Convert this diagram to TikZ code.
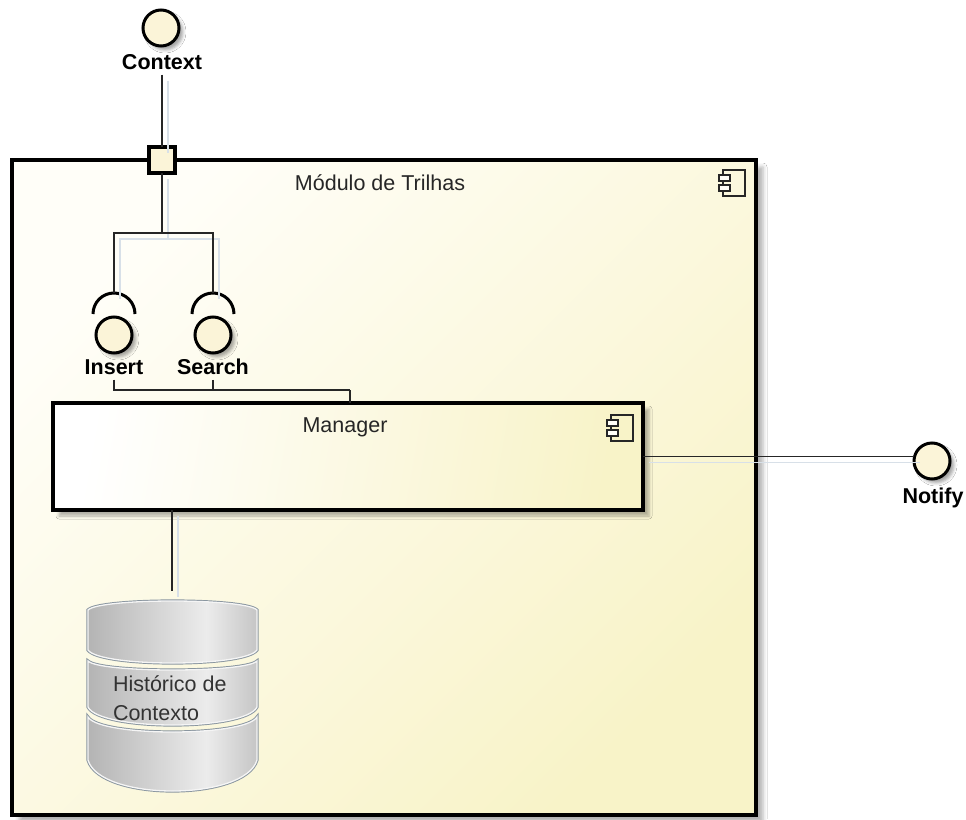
\documentclass[tikz,border=0pt]{standalone}
\usepackage{fontspec}
\setmainfont{Liberation Sans}
\usetikzlibrary{calc,shadows.blur}

\definecolor{paperhi}{HTML}{FFFEF8}
\definecolor{paperlo}{HTML}{F8F3C8}
\definecolor{cream}{HTML}{FBF4D8}
\definecolor{wireshade}{HTML}{D8E0E8}
\definecolor{dbedge}{HTML}{8A96A0}
\definecolor{dbdark}{HTML}{8C8C8C}
\definecolor{dblight}{HTML}{ECECEC}

% metallic horizontal gradient of the database discs
\pgfdeclarehorizontalshading{dbshade}{100bp}{%
  color(0bp)=(dbdark); color(12bp)=(dbdark!80!dblight); color(60bp)=(dblight);
  color(88bp)=(dbdark!75!dblight); color(100bp)=(dbdark)}

% small UML component glyph, (#1,#2) = top-left corner of its body
\newcommand\compicon[2]{%
  \draw[line width=1.4pt, draw=black!85] (#1,-#2) rectangle ++(22,-26);
  \draw[line width=1.4pt, draw=black!85, fill=paperhi] (#1-4,-#2-5) rectangle ++(11,-6);
  \draw[line width=1.4pt, draw=black!85, fill=paperhi] (#1-4,-#2-15) rectangle ++(11,-6);
}

% one disc of the database stack: top corner y, top middle y, bottom corner y, bottom middle y
\newcommand\dbseg[4]{%
  \path[dbfill]
    (88,-#1) .. controls (100,{-(#1+(#2-#1)*4/3)}) and (245,{-(#1+(#2-#1)*4/3)}) .. (257,-#1)
    -- (257,-#3) .. controls (245,{-(#3+(#4-#3)*4/3)}) and (100,{-(#3+(#4-#3)*4/3)}) .. (88,-#3)
    -- cycle;
}

\begin{document}
\begin{tikzpicture}[x=1pt, y=1pt,
  every node/.style={inner sep=0pt, outer sep=0pt},
  compbox/.style={rectangle, draw=black, line width=4pt},
  iface/.style={circle, draw=black, line width=3pt, fill=cream, minimum size=36pt,
    blur shadow={shadow xshift=4pt, shadow yshift=-4pt, shadow blur radius=3pt, shadow opacity=35}},
  socket/.style={draw=black, line width=3pt},
  lbl/.style={font=\fontsize{21.5}{24}\selectfont\bfseries, text=black},
  txt/.style={font=\fontsize{21.5}{29}\selectfont, text=black!85},
  wire/.style={draw=black!85, line width=1.6pt},
  dbfill/.style={shading=dbshade, preaction={draw=dbedge, line width=3.2pt},
    draw=white!92!gray, line width=1.3pt},
]
\useasboundingbox (0,0) rectangle (966,-819);
\fill[white] (0,0) rectangle (966,-819);

% ---- enclosing component
\node[compbox, minimum width=744pt, minimum height=655pt,
  top color=paperhi, bottom color=paperlo, shading angle=45,
  blur shadow={shadow xshift=7pt, shadow yshift=-7pt, shadow blur radius=4pt, shadow opacity=30}]
  (trilhas) at (384,-487.5) {};
\node[txt] (trilhasT) at (380,-183) {Módulo de Trilhas};
\compicon{723}{170}

% ---- inner component
\node[compbox, minimum width=590pt, minimum height=107pt,
  left color=white, right color=paperlo, shading angle=80,
  blur shadow={shadow xshift=6pt, shadow yshift=-6pt, shadow blur radius=3pt, shadow opacity=30}]
  (mgr) at (348,-456.5) {};
\node[txt] (mgrT) at (345,-427) {Manager};
\compicon{611}{415}

% ---- interface symbols
\node[iface] (ctx) at (161,-28) {};
\node[lbl] (ctxL) at (162,-62) {Context};
\node[rectangle, draw=black, line width=4pt, fill=cream, minimum size=26pt] (port) at (162,-160) {};

\node[iface] (ins) at (114,-335) {};
\node[lbl] (insL) at (114,-367) {Insert};
\node[iface] (srch) at (213,-335) {};
\node[lbl] (srchL) at (213,-367) {Search};

\node[iface] (notify) at (932,-461) {};
\node[lbl] (notifyL) at (933,-498) {Notify};

% sockets (required interfaces)
\coordinate (insTop) at (114,-293);
\coordinate (srchTop) at (213,-293);
\draw[socket] (93,-314) arc (180:0:21);
\draw[socket] (192,-314) arc (180:0:21);

% ---- connector routing points
\coordinate (fork) at (162,-233);
\coordinate (join) at (350,-390);
\coordinate (dbTop) at (172,-591);

% connector shadows
\begin{scope}[transform canvas={shift={(6pt,-6pt)}}, wire/.style={draw=wireshade, line width=1.6pt}]
  \draw[wire] (ctxL.south) ++(0,-5) -- (port.north);
  \draw[wire] (port.south) -- (fork);
  \draw[wire] (insTop) |- (fork) -| (srchTop);
  \draw[wire] (mgr.east) -- (mgr.east -| notify.west);
  \draw[wire] (dbTop |- mgr.south) -- (dbTop);
\end{scope}

% connectors
\draw[wire] (ctxL.south) ++(0,-5) -- (port.north);
\draw[wire] (port.south) -- (fork);
\draw[wire] (insTop) |- (fork) -| (srchTop);
\draw[wire, shorten <=5pt] (insL.south) |- (join);
\draw[wire, shorten <=5pt] (srchL.south) -- (srchL.south |- join);
\draw[wire] (join) -- (join |- mgr.north);
\draw[wire] (mgr.east) -- (mgr.east -| notify.west);
\draw[wire] (dbTop |- mgr.south) -- (dbTop);

% ---- database
\dbseg{717}{732}{760}{791}
\dbseg{661}{670}{707}{725}
\dbseg{610}{601}{650}{663}
\node[txt, align=left, anchor=west, text=black!80] (dbT) at (113,-698) {Histórico de\\Contexto};

\end{tikzpicture}
\end{document}
